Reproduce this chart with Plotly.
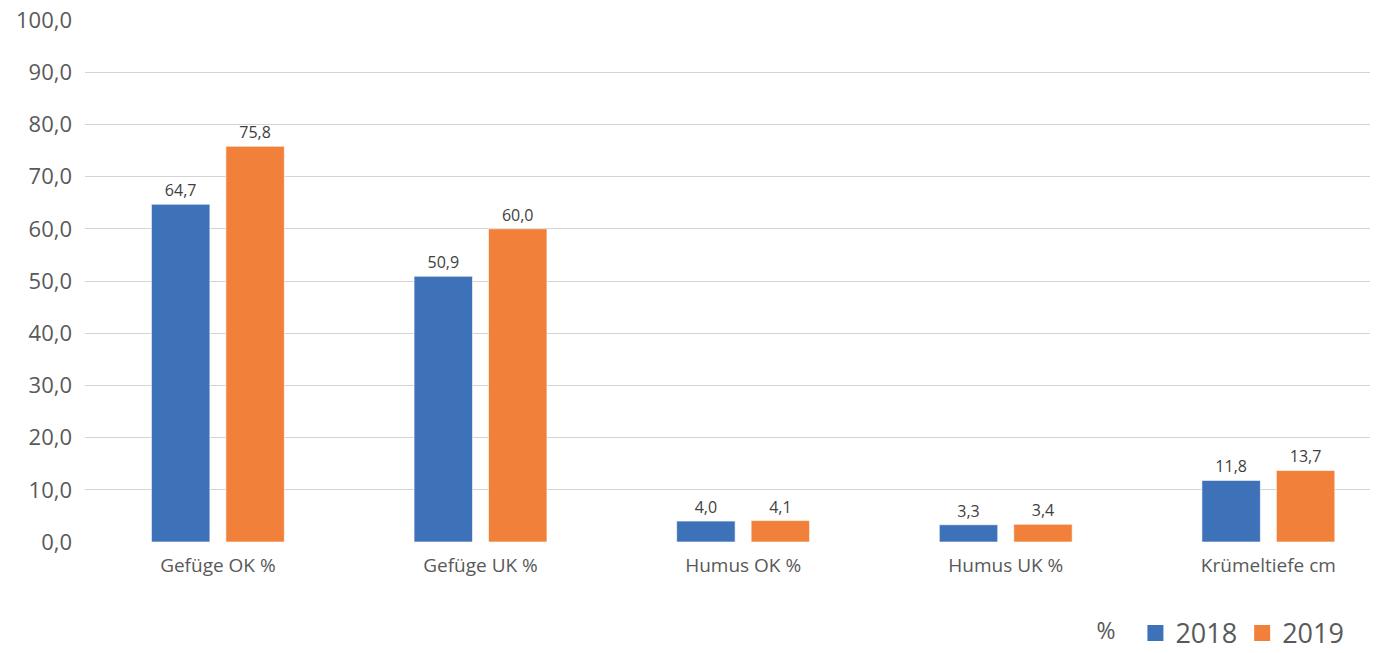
import plotly.graph_objects as go

categories = ["Gefüge OK %", "Gefüge UK %", "Humus OK %", "Humus UK %", "Krümeltiefe cm"]
values_2018 = [64.7, 50.9, 4.0, 3.3, 11.8]
values_2019 = [75.8, 60.0, 4.1, 3.4, 13.7]
y_ticks = [0, 10, 20, 30, 40, 50, 60, 70, 80, 90, 100]

BLUE = "#3D71B8"
ORANGE = "#F0803A"
FONT = "Open Sans"
GREY = "#595959"

fig = go.Figure()

for name, vals, color in [("2018", values_2018, BLUE), ("2019", values_2019, ORANGE)]:
    fig.add_trace(go.Bar(
        x=categories, y=vals, name=name,
        marker=dict(color=color, line=dict(color="rgba(255,255,255,0.6)", width=1)),
        texttemplate="%{y:.1f}", textposition="outside",
        textfont=dict(family=FONT, size=16, color="#404040"),
        cliponaxis=False, showlegend=False,
    ))
    # legend entry with a larger square swatch
    fig.add_trace(go.Scatter(
        x=[None], y=[None], mode="markers", name=name,
        marker=dict(symbol="square", size=16, color=color),
    ))

fig.update_layout(
    width=1378, height=653,
    margin=dict(l=85, r=8, t=20, b=111, autoexpand=False),
    paper_bgcolor="white", plot_bgcolor="white",
    separators=",.",
    barmode="group", bargap=0.433, bargroupgap=0.215,
    font=dict(family=FONT, color=GREY),
    legend=dict(
        orientation="h", x=0.984, xanchor="right", y=-0.175, yanchor="middle",
        font=dict(family=FONT, size=27, color=GREY),
        title=dict(text="%  ", font=dict(family=FONT, size=23, color=GREY)),
        itemsizing="trace", traceorder="normal",
    ),
)

fig.update_xaxes(
    categoryorder="array", categoryarray=categories,
    range=[-0.506, 4.387],
    showgrid=False, showline=False, zeroline=False, ticks="",
    tickfont=dict(family=FONT, size=19, color=GREY),
    ticklabelstandoff=10,
)
fig.update_yaxes(
    range=[0, 100], tickvals=y_ticks, tickformat=".1f",
    showgrid=True, gridcolor="#D4D4D4", gridwidth=1,
    zeroline=False, showline=False, ticks="",
    tickfont=dict(family=FONT, size=22, color=GREY),
    ticklabelstandoff=12,
)

fig.write_html("out.html")
